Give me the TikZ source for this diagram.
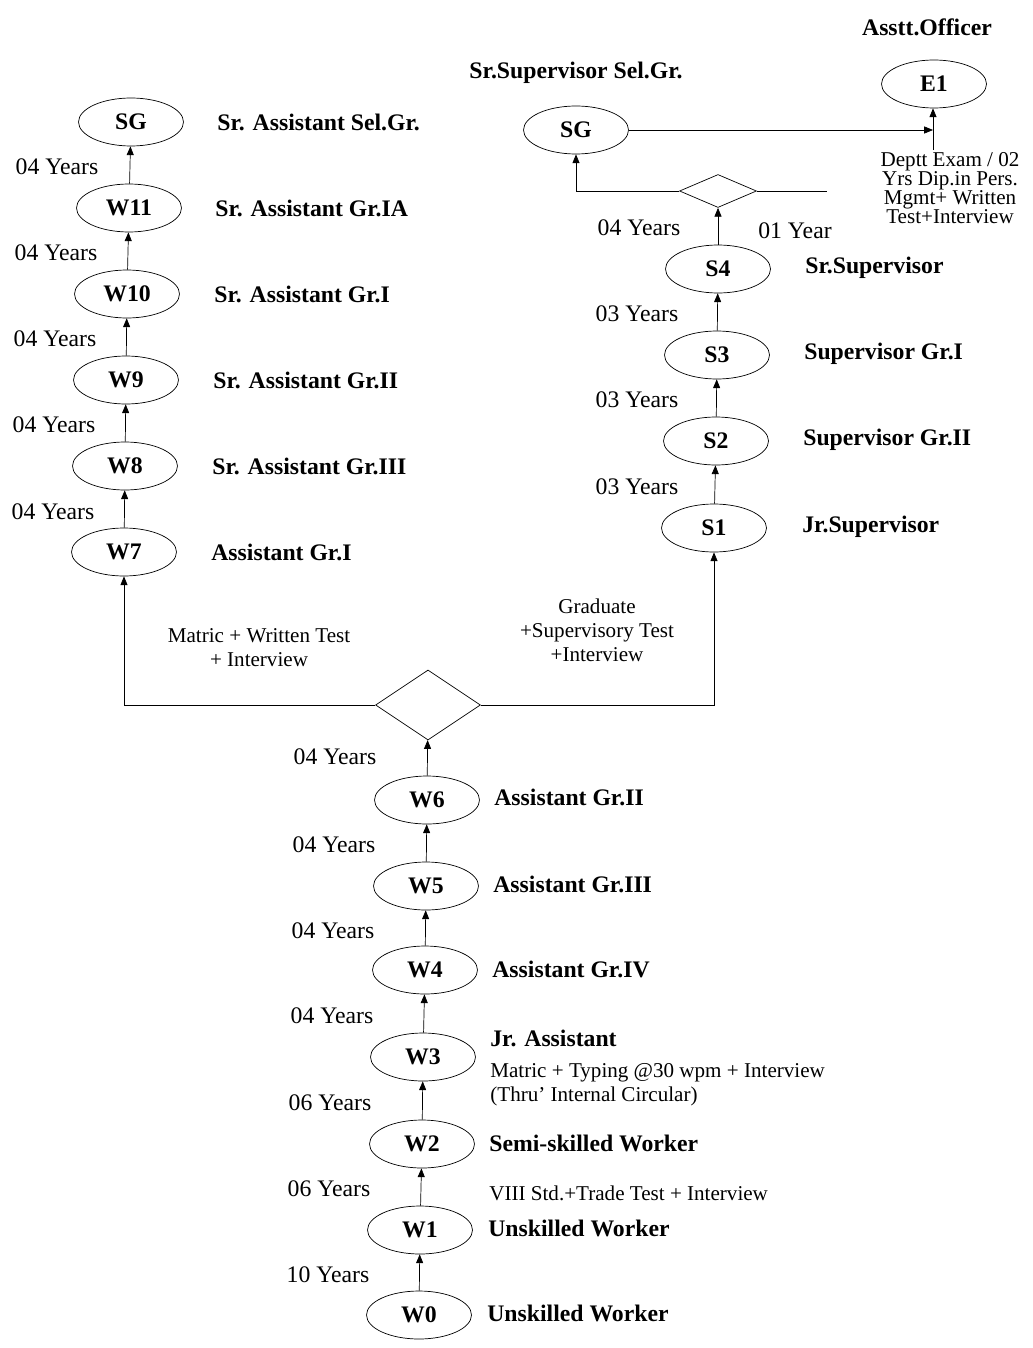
\documentclass[tikz,border=0pt]{standalone}
\usepackage{fontspec}
\setmainfont{Liberation Serif}
\usetikzlibrary{shapes.geometric,arrows.meta,positioning}

\tikzset{
  grade/.style={draw, thin, ellipse, minimum width=2.1cm, minimum height=0.96cm, inner sep=0pt,
    font=\fontsize{13.5}{14}\selectfont\bfseries},
  post/.style={anchor=west, inner sep=0pt, font=\fontsize{13.5}{14}\selectfont\bfseries},
  yrs/.style={inner sep=0pt, font=\fontsize{13.5}{14}\selectfont},
  note/.style={inner sep=0pt, align=center, font=\fontsize{12}{13.6}\selectfont},
  fork/.style={draw, thin, diamond, inner sep=0pt},
  up/.style={thin, -{Triangle[length=5pt,width=4pt]}}
}

\begin{document}
\begin{tikzpicture}[x=0.02cm, y=-0.02cm]
  \useasboundingbox (0,0) rectangle (1033,1348);

  % workmen / assistant ladder
  \node[grade] (w0) at (419,1315) {W0};
  \node[grade] (w1) at (420,1230) {W1};
  \node[grade] (w2) at (422,1144) {W2};
  \node[grade] (w3) at (423,1057) {W3};
  \node[grade] (w4) at (425,970) {W4};
  \node[grade] (w5) at (426,886) {W5};
  \node[grade] (w6) at (427,800) {W6};

  \node[post] at (487,1313) {Unskilled Worker};
  \node[post] at (488,1228) {Unskilled Worker};
  \node[note, anchor=west] at (489,1193) {VIII Std.+Trade Test + Interview};
  \node[post] at (489,1143) {Semi-skilled Worker};
  \node[post] at (490,1038) {Jr. Assistant};
  \node[note, anchor=west, align=left] at (490,1085) {Matric + Typing @30 wpm + Interview\\(Thru' Internal Circular)};
  \node[post] at (492,969) {Assistant Gr.IV};
  \node[post] at (493,884) {Assistant Gr.III};
  \node[post] at (494,797) {Assistant Gr.II};

  \node[yrs] at (328,1275) {10 Years};
  \node[yrs] at (329,1189) {06 Years};
  \node[yrs] at (330,1103) {06 Years};
  \node[yrs] at (332,1016) {04 Years};
  \node[yrs] at (333,931) {04 Years};
  \node[yrs] at (334,845) {04 Years};
  \node[yrs] at (335,757) {04 Years};

  \draw[up] (w0) -- (w1);
  \draw[up] (w1) -- (w2);
  \draw[up] (w2) -- (w3);
  \draw[up] (w3) -- (w4);
  \draw[up] (w4) -- (w5);
  \draw[up] (w5) -- (w6);

  \node[fork, minimum width=2.1cm, minimum height=1.4cm] (fork1) at (428,705) {};
  \draw[up] (w6) -- (fork1);

  \node[note] at (259,648) {Matric + Written Test\\+ Interview};
  \node[note] at (597,630) {Graduate\\+Supervisory Test\\+Interview};

  % senior assistant ladder
  \node[grade] (w7) at (124,552) {W7};
  \node[grade] (w8) at (125,466) {W8};
  \node[grade] (w9) at (126,380) {W9};
  \node[grade] (w10) at (127,294) {W10};
  \node[grade] (w11) at (129,208) {W11};
  \node[grade] (lsg) at (131,122) {SG};

  \node[post] at (211,552) {Assistant Gr.I};
  \node[post] at (212,466) {Sr. Assistant Gr.III};
  \node[post] at (213,380) {Sr. Assistant Gr.II};
  \node[post] at (214,294) {Sr. Assistant Gr.I};
  \node[post] at (215,208) {Sr. Assistant Gr.IA};
  \node[post] at (217,122) {Sr. Assistant Sel.Gr.};

  \node[yrs] at (53,512) {04 Years};
  \node[yrs] at (54,425) {04 Years};
  \node[yrs] at (55,339) {04 Years};
  \node[yrs] at (56,253) {04 Years};
  \node[yrs] at (57,167) {04 Years};

  \draw[up] (fork1.west) -| (w7);
  \draw[up] (w7) -- (w8);
  \draw[up] (w8) -- (w9);
  \draw[up] (w9) -- (w10);
  \draw[up] (w10) -- (w11);
  \draw[up] (w11) -- (lsg);

  % supervisor ladder
  \node[grade] (s1) at (714,528) {S1};
  \node[grade] (s2) at (716,441) {S2};
  \node[grade] (s3) at (717,355) {S3};
  \node[grade] (s4) at (718,269) {S4};

  \node[post] at (802,527) {Jr.Supervisor};
  \node[post] at (803,440) {Supervisor Gr.II};
  \node[post] at (804,354) {Supervisor Gr.I};
  \node[post] at (805,268) {Sr.Supervisor};

  \node[yrs] at (637,487) {03 Years};
  \node[yrs] at (637,400) {03 Years};
  \node[yrs] at (637,314) {03 Years};
  \node[yrs] at (639,228) {04 Years};
  \node[yrs] at (795,231) {01 Year};

  \draw[up] (fork1.east) -| (s1);
  \draw[up] (s1) -- (s2);
  \draw[up] (s2) -- (s3);
  \draw[up] (s3) -- (s4);

  \node[fork, minimum width=1.54cm, minimum height=0.66cm] (fork2) at (718,191) {};
  \draw[up] (s4) -- (fork2);

  \node[grade] (rsg) at (576,130) {SG};
  \node[grade] (e1) at (934,84) {E1};
  \node[post, anchor=center] at (576,73) {Sr.Supervisor Sel.Gr.};
  \node[post, anchor=center] at (927,27) {Asstt.Officer};
  \node[note, font=\fontsize{12}{10.8}\selectfont] at (950,188) {Deptt Exam / 02\\Yrs Dip.in Pers.\\Mgmt+ Written\\Test+Interview};

  \coordinate (deptt) at (827,191);
  \coordinate (e1in) at (933,130);
  \coordinate (e1foot) at (933,150);

  \draw[up] (fork2.west) -| (rsg);
  \draw (fork2.east) -- (deptt);
  \draw[up] (rsg) -- (e1in);
  \draw[up] (e1foot) -- (e1in |- e1.south);
\end{tikzpicture}
\end{document}
